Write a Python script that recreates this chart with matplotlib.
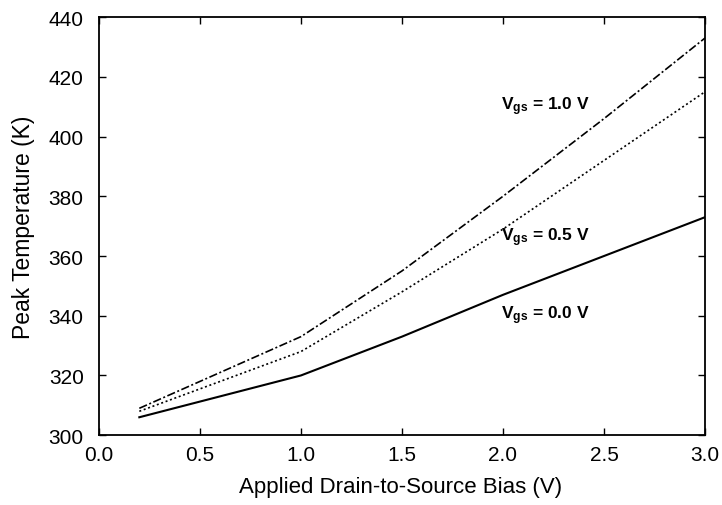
import matplotlib
matplotlib.use('Agg')
import matplotlib.pyplot as plt

plt.rcParams['font.family'] = ['Liberation Sans', 'DejaVu Sans']
plt.rcParams['mathtext.fontset'] = 'custom'
plt.rcParams['mathtext.rm'] = 'Liberation Sans'
plt.rcParams['mathtext.bf'] = 'Liberation Sans:bold'
plt.rcParams['mathtext.it'] = 'Liberation Sans:italic'

# datos
bias = [0.2, 1.0, 1.5, 2.0, 2.5, 3.0]
temp_vgs00 = [306, 320, 333, 347, 360, 373]
temp_vgs05 = [308, 328, 348, 369, 392, 415]
temp_vgs10 = [309, 333, 355, 380, 406, 433]

x_ticks = [0.0, 0.5, 1.0, 1.5, 2.0, 2.5, 3.0]
y_ticks = [300, 320, 340, 360, 380, 400, 420, 440]

fig = plt.figure(figsize=(7.22, 5.06), dpi=100)
ax = fig.add_axes([0.137, 0.138, 0.8395, 0.8262])

ax.plot(bias, temp_vgs00, color='black', linewidth=1.5, linestyle='-')
ax.plot(bias, temp_vgs05, color='black', linewidth=1.2, linestyle=(0, (1.2, 1.6)))
ax.plot(bias, temp_vgs10, color='black', linewidth=1.2, linestyle=(0, (5, 1.5, 1.2, 1.5)))

# etiquetas de las curvas
etiquetas = [(410.5, '1.0'), (366.5, '0.5'), (340.5, '0.0')]
for yy, v in etiquetas:
    ax.text(1.99, yy, r'$\mathbf{V_{gs}}$' + f' = {v} V', fontsize=12.5,
            fontweight='bold', va='center')

ax.set_xlim(0, 3.0)
ax.set_ylim(300, 440)
ax.set_xticks(x_ticks)
ax.set_yticks(y_ticks)
ax.set_xticklabels([f'{v:.1f}' for v in x_ticks])
ax.tick_params(direction='in', top=True, right=True, length=5, width=1,
               labelsize=15)
ax.tick_params(axis='x', pad=7)
ax.tick_params(axis='y', pad=11)
for s in ax.spines.values():
    s.set_linewidth(1.3)

ax.set_xlabel('Applied Drain-to-Source Bias (V)', fontsize=16, va='center')
ax.xaxis.set_label_coords(0.497, -0.123)
ax.set_ylabel('Peak Temperature (K)', fontsize=16.5, va='center')
ax.yaxis.set_label_coords(-0.125, 0.5)

plt.savefig('out.png', dpi=100, facecolor='white')
